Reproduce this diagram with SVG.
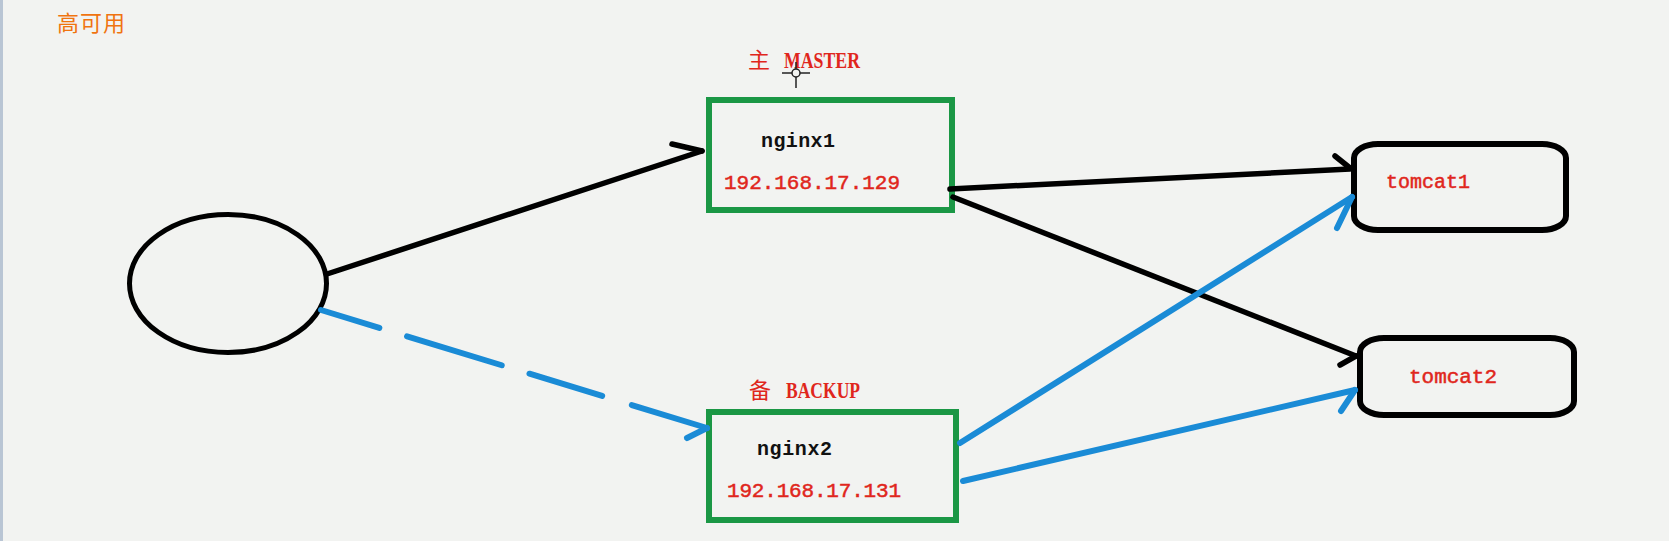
<svg xmlns="http://www.w3.org/2000/svg" width="1669" height="541" viewBox="0 0 1669 541">
<style>
.node{fill:none;stroke:#1b9745;stroke-width:6}
.tc{fill:none;stroke:#000;stroke-width:6}
.blk{fill:none;stroke:#000;stroke-width:5.5;stroke-linecap:round;stroke-linejoin:round}
.blu{fill:none;stroke:#1a8bd6;stroke-width:6;stroke-linecap:round;stroke-linejoin:round}
.red{fill:#e0261c;stroke:#e0261c;stroke-width:0.5;font-family:"Liberation Mono","Noto Sans CJK SC",monospace}
.lbl{fill:#e0261c;font-family:"Liberation Serif","Noto Sans CJK SC",serif;font-size:24px}
.nm{fill:#111;font-family:"Liberation Mono",monospace;font-weight:bold;font-size:20px}
</style>
<rect width="1669" height="541" fill="#f2f3f1"/>
<rect x="0" y="0" width="3" height="541" fill="#b9c5d4"/>
<text x="57" y="31" font-family="Noto Sans CJK SC, sans-serif" font-size="22" fill="#f07410" textLength="68">高可用</text>

<g id="client">
<ellipse cx="228" cy="283.5" rx="98.5" ry="69" fill="none" stroke="#000" stroke-width="5"/>
</g>

<g id="nginx1">
<text class="lbl" y="68"><tspan x="748" font-family="Noto Sans CJK SC, sans-serif" font-size="22">主</tspan><tspan x="784" font-weight="bold" textLength="76" lengthAdjust="spacingAndGlyphs">MASTER</tspan></text>
<rect class="node" x="709" y="100" width="243" height="110"/>
<text class="nm" x="761" y="147" textLength="74">nginx1</text>
<text class="red" x="724" y="189" font-size="21" textLength="176">192.168.17.129</text>
</g>

<g id="nginx2">
<text class="lbl" y="398"><tspan x="749" font-family="Noto Sans CJK SC, sans-serif" font-size="22">备</tspan><tspan x="786" font-weight="bold" textLength="74" lengthAdjust="spacingAndGlyphs">BACKUP</tspan></text>
<rect class="node" x="709" y="412" width="247" height="108"/>
<text class="nm" x="757" y="455" textLength="75">nginx2</text>
<text class="red" x="727" y="497" font-size="21" textLength="174">192.168.17.131</text>
</g>

<g id="tomcat1">
<rect class="tc" x="1354" y="144" width="212" height="86" rx="24" ry="14"/>
<text class="red" x="1386" y="188" font-size="20" textLength="84">tomcat1</text>
</g>

<g id="tomcat2">
<rect class="tc" x="1360" y="338" width="214" height="77" rx="24" ry="14"/>
<text class="red" x="1409" y="383" font-size="21" textLength="88">tomcat2</text>
</g>

<g id="connectors">
<line class="blk" x1="327" y1="274" x2="702" y2="151"/>
<polyline class="blk" points="672,144 702,151"/>
<line class="blk" x1="950" y1="189" x2="1350" y2="169"/>
<polyline class="blk" points="1335,156 1350,168"/>
<line class="blk" x1="953" y1="197" x2="1356" y2="356"/>
<polyline class="blk" points="1340,365 1356,356"/>
<line class="blu" x1="960" y1="443" x2="1352" y2="197"/>
<polyline class="blu" points="1337,228 1352,197"/>
<line class="blu" x1="963" y1="481" x2="1355" y2="390"/>
<polyline class="blu" points="1341,411 1355,390"/>
<line class="blu" x1="321" y1="310" x2="707" y2="428" stroke-dasharray="61 29 99 29 76 31 90" stroke-linecap="butt"/>
<polyline class="blu" points="687,438 707,428"/>
</g>

<g id="cursor" fill="none" stroke="#222" stroke-width="1.5">
<circle cx="796" cy="73" r="4"/>
<line x1="782" y1="73" x2="792" y2="73"/>
<line x1="800" y1="73" x2="810" y2="73"/>
<line x1="796" y1="62" x2="796" y2="69"/>
<line x1="796" y1="77" x2="796" y2="88"/>
</g>
</svg>
